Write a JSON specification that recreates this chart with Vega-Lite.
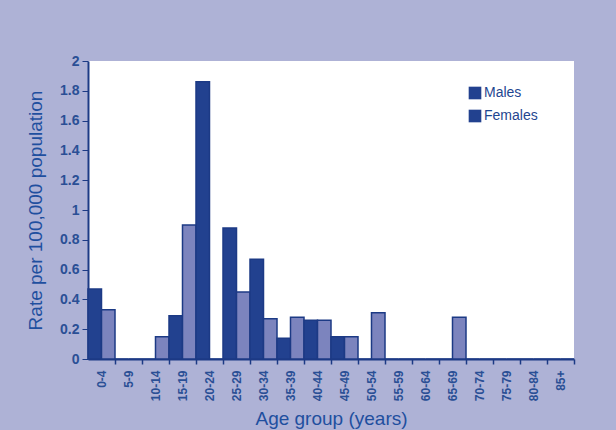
{
  "$schema": "https://vega.github.io/schema/vega-lite/v6.json",
  "width": 486,
  "height": 298,
  "autosize": {"type": "none"},
  "padding": {"left": 88, "top": 61, "right": 42, "bottom": 71},
  "background": "#aeb2d6",
  "data": {
    "values": [
      {"age": "0-4", "sex": "Males", "rate": 0.47},
      {"age": "0-4", "sex": "Females", "rate": 0.33},
      {"age": "5-9", "sex": "Males", "rate": 0},
      {"age": "5-9", "sex": "Females", "rate": 0},
      {"age": "10-14", "sex": "Males", "rate": 0},
      {"age": "10-14", "sex": "Females", "rate": 0.15},
      {"age": "15-19", "sex": "Males", "rate": 0.29},
      {"age": "15-19", "sex": "Females", "rate": 0.9},
      {"age": "20-24", "sex": "Males", "rate": 1.86},
      {"age": "20-24", "sex": "Females", "rate": 0},
      {"age": "25-29", "sex": "Males", "rate": 0.88},
      {"age": "25-29", "sex": "Females", "rate": 0.45},
      {"age": "30-34", "sex": "Males", "rate": 0.67},
      {"age": "30-34", "sex": "Females", "rate": 0.27},
      {"age": "35-39", "sex": "Males", "rate": 0.14},
      {"age": "35-39", "sex": "Females", "rate": 0.28},
      {"age": "40-44", "sex": "Males", "rate": 0.26},
      {"age": "40-44", "sex": "Females", "rate": 0.26},
      {"age": "45-49", "sex": "Males", "rate": 0.15},
      {"age": "45-49", "sex": "Females", "rate": 0.15},
      {"age": "50-54", "sex": "Males", "rate": 0},
      {"age": "50-54", "sex": "Females", "rate": 0.31},
      {"age": "55-59", "sex": "Males", "rate": 0},
      {"age": "55-59", "sex": "Females", "rate": 0},
      {"age": "60-64", "sex": "Males", "rate": 0},
      {"age": "60-64", "sex": "Females", "rate": 0},
      {"age": "65-69", "sex": "Males", "rate": 0},
      {"age": "65-69", "sex": "Females", "rate": 0.28},
      {"age": "70-74", "sex": "Males", "rate": 0},
      {"age": "70-74", "sex": "Females", "rate": 0},
      {"age": "75-79", "sex": "Males", "rate": 0},
      {"age": "75-79", "sex": "Females", "rate": 0},
      {"age": "80-84", "sex": "Males", "rate": 0},
      {"age": "80-84", "sex": "Females", "rate": 0},
      {"age": "85+", "sex": "Males", "rate": 0},
      {"age": "85+", "sex": "Females", "rate": 0}
    ]
  },
  "mark": {"type": "bar", "strokeWidth": 1.5},
  "encoding": {
    "x": {
      "field": "age",
      "type": "nominal",
      "sort": ["0-4","5-9","10-14","15-19","20-24","25-29","30-34","35-39","40-44","45-49","50-54","55-59","60-64","65-69","70-74","75-79","80-84","85+"],
      "scale": {"paddingInner": 0, "paddingOuter": 0},
      "axis": {
        "title": "Age group (years)",
        "titleFontSize": 19,
        "titleFontWeight": "normal",
        "titleColor": "#1f4f9f",
        "titlePadding": 9,
        "labelAngle": -90,
        "labelFontSize": 12,
        "labelFontWeight": "bold",
        "labelColor": "#2a4f95",
        "labelPadding": 6,
        "tickOffset": 13.5,
        "labelOffset": -13.5,
        "tickSize": 5,
        "tickColor": "#1c3a85",
        "tickWidth": 1.5,
        "domainColor": "#1c3a85",
        "domainWidth": 2
      }
    },
    "xOffset": {
      "field": "sex",
      "type": "nominal",
      "sort": ["Males", "Females"],
      "scale": {"paddingInner": 0, "paddingOuter": 0}
    },
    "y": {
      "field": "rate",
      "type": "quantitative",
      "scale": {"domain": [0, 2]},
      "axis": {
        "title": "Rate per 100,000 population",
        "titleFontSize": 19,
        "titleFontWeight": "normal",
        "titleColor": "#1f4f9f",
        "titlePadding": 14,
        "values": [0, 0.2, 0.4, 0.6, 0.8, 1, 1.2, 1.4, 1.6, 1.8, 2],
        "format": "~g",
        "grid": false,
        "labelFontSize": 14,
        "labelFontWeight": "bold",
        "labelColor": "#2a4f95",
        "labelPadding": 3,
        "tickSize": 6,
        "tickColor": "#1c3a85",
        "domainColor": "#1c3a85",
        "domainWidth": 2
      }
    },
    "fill": {
      "field": "sex",
      "type": "nominal",
      "scale": {"domain": ["Males", "Females"], "range": ["#22418f", "#7c84be"]},
      "legend": null
    },
    "stroke": {
      "field": "sex",
      "type": "nominal",
      "sort": ["Males", "Females"],
      "scale": {"range": ["#1c3a85", "#1c3a85"]},
      "legend": {
        "title": null,
        "orient": "none",
        "legendX": 380,
        "legendY": 25,
        "symbolType": "square",
        "symbolSize": 160,
        "symbolStrokeWidth": 0,
        "symbolFillColor": "#22418f",
        "labelFontSize": 14,
        "labelColor": "#1f4690",
        "rowPadding": 9,
        "labelOffset": 2
      }
    }
  },
  "config": {
    "font": "Liberation Sans",
    "view": {"stroke": null, "fill": "white"}
  }
}
